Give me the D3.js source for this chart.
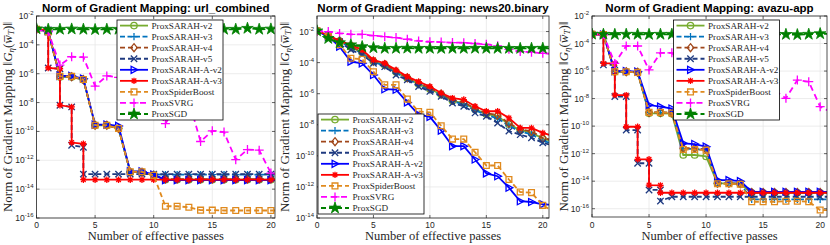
<!DOCTYPE html>
<html>
<head>
<meta charset="utf-8">
<script src="https://cdn.jsdelivr.net/npm/d3@7"></script>
<style>
  body { margin: 0; background: #fff; }
  svg { display: block; }
</style>
</head>
<body>
<div id="chart"></div>
<script>
// ---- data ----
const methods = ["ProxSARAH-v2", "ProxSARAH-v3", "ProxSARAH-v4", "ProxSARAH-v5",
  "ProxSARAH-A-v2", "ProxSARAH-A-v3", "ProxSpiderBoost", "ProxSVRG", "ProxSGD"];

const titles = ["Norm of Gradient Mapping: url_combined",
  "Norm of Gradient Mapping: news20.binary",
  "Norm of Gradient Mapping: avazu-app"];

const xTicks = [0, 5, 10, 15, 20];
const urlYTicks = [-2, -4, -6, -8, -10, -12, -14, -16];
const newsYTicks = [-2, -4, -6, -8, -10, -12, -14];
const avazuYTicks = [-2, -4, -6, -8, -10, -12, -14, -16];

// effective passes
const passes = [0, 1, 2, 3, 4, 5, 6, 7, 8, 9, 10, 11, 12, 13, 14, 15, 16, 17, 18, 19, 20, 21];
// staircase runs: two records at the same pass
const urlStepPasses = [0, 1, 1, 2, 2, 3, 3, 4, 4, 5, 6, 7, 8, 9, 10, 11, 12, 13, 14, 15, 16, 17, 18, 19, 20, 21];
const avazuStepPasses = [0, 1, 1, 2, 2, 3, 3, 4, 4, 5, 5, 6, 6, 7, 8, 9, 10, 11, 12, 13, 14, 15, 16, 17, 18, 19, 20, 21];

// url_combined
const urlV2 = [1.2e-3, 8e-4, 6e-7, 6e-7, 3.8e-7, 2.6e-10, 2.6e-10, 1.6e-10, 1.5e-13, 1.5e-13, 9e-14, 4.5e-14, 4.5e-14, 4.5e-14, 4.5e-14, 4.5e-14, 4.5e-14, 4.5e-14, 4.5e-14, 4.5e-14, 4.5e-14, 4.5e-14];
const urlV3 = [1.2e-3, 8e-4, 6.3e-7, 6.3e-7, 4e-7, 2.8e-10, 2.8e-10, 1.7e-10, 1.6e-13, 1.6e-13, 1.1e-13, 1e-13, 1e-13, 1e-13, 1e-13, 1e-13, 1e-13, 1e-13, 1e-13, 1e-13, 1e-13, 1e-13];
const urlV4 = [1.2e-3, 8e-4, 6.2e-7, 6.2e-7, 3.9e-7, 2.7e-10, 2.7e-10, 1.6e-10, 1.5e-13, 1.5e-13, 9e-14, 5e-14, 5e-14, 5e-14, 5e-14, 5e-14, 5e-14, 5e-14, 5e-14, 5e-14, 5e-14, 5e-14];
const urlV5 = [1.2e-3, 1.1e-3, 2.5e-6, 2.2e-6, 6.5e-9, 5e-9, 1.1e-11, 8e-12, 1.1e-13, 1.1e-13, 1.1e-13, 1.1e-13, 1.1e-13, 1.1e-13, 1.1e-13, 1.1e-13, 1.1e-13, 1.1e-13, 1.1e-13, 1.1e-13, 1.1e-13, 1.1e-13, 1.1e-13, 1.1e-13, 1.1e-13, 1.1e-13];
const urlAV2 = [1.2e-3, 9e-4, 7e-7, 7e-7, 4.5e-7, 3e-10, 3e-10, 2.4e-10, 1.7e-13, 1.7e-13, 1e-13, 4.2e-14, 4.2e-14, 4.2e-14, 4.2e-14, 4.2e-14, 4.2e-14, 4.2e-14, 4.2e-14, 4.2e-14, 4.2e-14, 4.2e-14];
const urlAV3 = [1.2e-3, 1.1e-3, 2.5e-6, 2.2e-6, 6.5e-9, 5e-9, 1.7e-11, 1.4e-11, 4.5e-14, 4.5e-14, 4.5e-14, 4.5e-14, 4.5e-14, 4.5e-14, 4.5e-14, 4.5e-14, 4.5e-14, 4.5e-14, 4.5e-14, 4.5e-14, 4.5e-14, 4.5e-14, 4.5e-14, 4.5e-14, 4.5e-14, 4.5e-14];
const urlSpider = [1.2e-3, 8e-4, 6.5e-7, 6.5e-7, 4e-7, 2.7e-10, 2.7e-10, 1.6e-10, 1.6e-13, 1.6e-13, 9e-14, 6.5e-16, 6.5e-16, 5.5e-16, 3.5e-16, 3.5e-16, 3.3e-16, 3.3e-16, 3.3e-16, 3.3e-16, 3.3e-16, 3.3e-16];
const urlSVRG = [1.2e-3, 8e-4, 4e-6, 1.5e-5, 1.4e-5, 1.4e-7, 7e-7, 5.5e-7, 2e-7, 6e-8, 1e-8, 3.5e-10, 8e-9, 1.3e-8, 2e-11, 1.1e-10, 9e-11, 1.1e-12, 5.5e-12, 5e-12, 1.3e-13, 8e-14];
const urlSGD = [1.3e-3, 1.2e-3, 1.2e-3, 1.25e-3, 1.2e-3, 1.15e-3, 1.2e-3, 1.2e-3, 1.25e-3, 1.2e-3, 1.2e-3, 1.15e-3, 1.2e-3, 1.2e-3, 1.25e-3, 1.2e-3, 1.2e-3, 1.2e-3, 1.4e-3, 1.2e-3, 1.25e-3, 1.2e-3];

// news20.binary
const newsV2 = [1.1e-2, 5.2e-3, 2.4e-3, 1e-3, 4.5e-4, 1.2e-4, 7.1e-5, 2.5e-5, 1e-5, 4.2e-6, 2e-6, 8.9e-7, 3.5e-7, 2.5e-7, 1e-7, 5e-8, 3.5e-8, 1.1e-8, 4.5e-9, 3.2e-9, 1.26e-9, 8e-10];
const newsV3 = [1.1e-2, 5.1e-3, 2.3e-3, 8.9e-4, 4e-4, 1.07e-4, 6.3e-5, 2.1e-5, 9.3e-6, 3.7e-6, 1.8e-6, 8.3e-7, 3.2e-7, 2.1e-7, 8.3e-8, 4.5e-8, 2.5e-8, 8.9e-9, 3.5e-9, 2.5e-9, 8.9e-10, 6.3e-10];
const newsV4 = [1.1e-2, 5.4e-3, 2.5e-3, 1.05e-3, 5e-4, 1.26e-4, 7.6e-5, 2.7e-5, 1.07e-5, 4.7e-6, 2.2e-6, 9.5e-7, 4e-7, 2.8e-7, 1.1e-7, 5.6e-8, 4.2e-8, 1.26e-8, 5e-9, 3.8e-9, 1.4e-9, 1e-9];
const newsV5 = [1.1e-2, 5e-3, 2.2e-3, 6.6e-4, 3.2e-4, 9.1e-5, 5.5e-5, 1.6e-5, 7.8e-6, 2.9e-6, 1.4e-6, 6.8e-7, 2.5e-7, 1.55e-7, 5.8e-8, 3.5e-8, 1.3e-8, 3.9e-9, 2.3e-9, 1.45e-9, 6.9e-10, 4.5e-10];
const newsAV2 = [1.1e-2, 4.7e-3, 1.07e-3, 1.15e-4, 9e-5, 1.6e-5, 1.95e-6, 1.8e-6, 2.75e-7, 4.5e-8, 3.2e-8, 4.2e-9, 4.2e-10, 4.2e-10, 5.8e-11, 7.4e-12, 4.9e-12, 8.9e-13, 1.2e-13, 1.07e-13, 7.6e-14, 7e-14];
const newsAV3 = [1.1e-2, 5.8e-3, 2.5e-3, 1.4e-3, 6.6e-4, 1.5e-4, 9.1e-5, 3.4e-5, 1.26e-5, 6e-6, 2.9e-6, 1.1e-6, 5.2e-7, 4.2e-7, 1.55e-7, 7.4e-8, 7.4e-8, 2.75e-8, 6.3e-9, 6.3e-9, 3e-9, 1.8e-9];
const newsSpider = [1.1e-2, 4.7e-3, 1.4e-3, 1.9e-4, 1.66e-4, 2.6e-5, 3.7e-6, 3.7e-6, 4.5e-7, 7.2e-8, 6.3e-8, 8.7e-9, 1.2e-9, 1.2e-9, 1.7e-10, 2.4e-11, 2.4e-11, 3e-12, 4.7e-13, 4.3e-13, 6.5e-14, 2.5e-14];
const newsSVRG = [1.1e-2, 1e-2, 7.6e-3, 6.6e-3, 6.6e-3, 5.4e-3, 4.7e-3, 4.1e-3, 3.2e-3, 2.5e-3, 2.2e-3, 2.1e-3, 1.95e-3, 1.9e-3, 1.7e-3, 1.5e-3, 1.2e-3, 7.2e-4, 5.1e-4, 4.7e-4, 4e-4, 3.5e-4];
const newsSGD = [1.1e-2, 3.6e-3, 1.9e-3, 1.4e-3, 1.07e-3, 9.1e-4, 8.3e-4, 8.3e-4, 8.5e-4, 8.3e-4, 8.3e-4, 8.2e-4, 8.3e-4, 8.3e-4, 8.4e-4, 8.3e-4, 8.3e-4, 8.3e-4, 8.2e-4, 8.3e-4, 8.4e-4, 8.3e-4];

// avazu-app
const avazuV2 = [4.7e-4, 4.5e-4, 8.9e-7, 8.9e-7, 8e-7, 8.5e-10, 8.5e-10, 8e-10, 8e-13, 8e-13, 6.3e-13, 6.9e-15, 6.9e-15, 6.3e-15, 1.45e-15, 1.45e-15, 1.45e-15, 1.45e-15, 1.45e-15, 1.45e-15, 1.45e-15, 1.45e-15];
const avazuV3 = [4.7e-4, 4.5e-4, 9e-7, 9e-7, 8e-7, 1e-9, 1e-9, 9e-10, 2.2e-12, 2.2e-12, 1.8e-12, 7e-15, 7e-15, 6.5e-15, 4.8e-16, 4.8e-16, 4.8e-16, 4.8e-16, 4.8e-16, 4.8e-16, 4.8e-16, 4.8e-16];
const avazuV4 = [4.7e-4, 4.5e-4, 9e-7, 9e-7, 8.2e-7, 1e-9, 1e-9, 9e-10, 2.5e-12, 2.5e-12, 2e-12, 7e-15, 7e-15, 6.5e-15, 1.5e-15, 1.5e-15, 1.5e-15, 1.5e-15, 1.5e-15, 1.5e-15, 1.5e-15, 1.5e-15];
const avazuV5 = [4.7e-4, 4.5e-4, 2.8e-6, 2.8e-6, 1.4e-8, 1.4e-8, 5.2e-11, 5.2e-11, 2e-13, 2e-13, 2.3e-15, 2.3e-15, 3.6e-16, 7.4e-16, 7.4e-16, 7.4e-16, 7.4e-16, 7.4e-16, 7.4e-16, 7.4e-16, 7.4e-16, 7.4e-16, 7.4e-16, 7.4e-16, 7.4e-16, 7.4e-16, 7.4e-16, 7.4e-16];
const avazuAV2 = [4.7e-4, 4.5e-4, 1e-6, 1e-6, 9e-7, 3.4e-9, 2.6e-9, 1.9e-9, 5.6e-12, 5e-12, 3.2e-12, 1.2e-14, 1.2e-14, 1e-14, 1.7e-15, 1.7e-15, 1.7e-15, 1.7e-15, 1.7e-15, 1.7e-15, 1.7e-15, 1.7e-15];
const avazuAV3 = [4.7e-4, 4.5e-4, 3.6e-6, 3.6e-6, 1.8e-8, 1.8e-8, 9e-11, 9e-11, 3.9e-13, 3.9e-13, 5.2e-15, 5e-15, 1.45e-15, 1.45e-15, 1.45e-15, 1.45e-15, 1.45e-15, 1.45e-15, 1.45e-15, 1.45e-15, 1.45e-15, 1.45e-15, 1.45e-15, 1.45e-15, 1.45e-15, 1.45e-15, 1.45e-15, 1.45e-15];
const avazuSpider = [4.7e-4, 4.5e-4, 9e-7, 9e-7, 8e-7, 1e-9, 1e-9, 9e-10, 2e-12, 2e-12, 1.8e-12, 6.5e-15, 6.5e-15, 6e-15, 3.2e-16, 3.2e-16, 3.2e-16, 3.5e-16, 3.5e-16, 3.2e-16, 8e-17, 8e-17];
const avazuSVRG = [4.7e-4, 4.5e-4, 3.6e-6, 6.6e-5, 6.6e-5, 1.2e-6, 2.1e-5, 2.1e-5, 3e-6, 1e-6, 3e-7, 6e-7, 1.5e-7, 1e-7, 1.2e-7, 6e-8, 4e-8, 1.05e-8, 2.2e-7, 1.7e-7, 2.6e-9, 1e-9];
const avazuSGD = [4.8e-4, 4.7e-4, 4.6e-4, 4.7e-4, 4.7e-4, 4.6e-4, 4.7e-4, 4.7e-4, 4.8e-4, 4.7e-4, 4.7e-4, 4.6e-4, 4.7e-4, 4.7e-4, 4.8e-4, 4.7e-4, 4.7e-4, 4.6e-4, 4.4e-4, 4.7e-4, 5.2e-4, 5e-4];

// ---- styles ----
const colors = ["#77ac30", "#0072bd", "#a0461a", "#1f3a80", "#0000ff", "#ff0000", "#e08a1e", "#ff00ff", "#008000"];
const dashes = [null, "5,2.5", "5,3", "5,3", null, null, "5,3", "6,4", "5,3"];
const markers = ["o", "+", "d", "x", ">", "*", "s", "P", "p"];

const panels = [
  { left: 36.5, right: 275, top: 16, bottom: 218, xMax: 20.35, yDomain: [1e-16, 1e-2], yTicks: urlYTicks,
    legend: [117, 20], yLabelX: 11.5,
    series: [[passes, urlV2], [passes, urlV3], [passes, urlV4], [urlStepPasses, urlV5], [passes, urlAV2],
      [urlStepPasses, urlAV3], [passes, urlSpider], [passes, urlSVRG], [passes, urlSGD]] },
  { left: 317, right: 549, top: 16, bottom: 218, xMax: 20.55, yDomain: [1e-14, 1e-1], yTicks: newsYTicks,
    legend: [318, 114], yLabelX: 288.5,
    series: [[passes, newsV2], [passes, newsV3], [passes, newsV4], [passes, newsV5], [passes, newsAV2],
      [passes, newsAV3], [passes, newsSpider], [passes, newsSVRG], [passes, newsSGD]] },
  { left: 592, right: 827, top: 16, bottom: 217, xMax: 20.6, yDomain: [2.5e-17, 1e-2], yTicks: avazuYTicks,
    legend: [673.5, 20], yLabelX: 567.5,
    series: [[passes, avazuV2], [passes, avazuV3], [passes, avazuV4], [avazuStepPasses, avazuV5], [passes, avazuAV2],
      [avazuStepPasses, avazuAV3], [passes, avazuSpider], [passes, avazuSVRG], [passes, avazuSGD]] }
];

const width = 830, height = 245;
const axisColor = "#262626";
const serif = "'Liberation Serif', 'Times New Roman', serif";
const sans = "'Liberation Sans', Arial, Helvetica, sans-serif";

const svg = d3.select("#chart").append("svg")
  .attr("width", width)
  .attr("height", height)
  .attr("viewBox", [0, 0, width, height]);

// marker shapes centred at 0,0
function markerPath(type) {
  const s = 3.2;
  switch (type) {
    case "o": return `M${s},0A${s},${s},0,1,1,${-s},0A${s},${s},0,1,1,${s},0Z`;
    case "+": return `M${-s - 0.5},0H${s + 0.5}M0,${-s - 0.5}V${s + 0.5}`;
    case "P": return `M-4.5,0H4.5M0,-4.5V4.5`;
    case "d": return `M0,${-s * 1.25}L${s},0L0,${s * 1.25}L${-s},0Z`;
    case "x": return `M${-s},${-s}L${s},${s}M${-s},${s}L${s},${-s}`;
    case ">": return `M${-s * 0.9},${-s * 1.1}L${s * 1.2},0L${-s * 0.9},${s * 1.1}Z`;
    case "*": return `M${-s},0H${s}M0,${-s}V${s}M-2.3,-2.3L2.3,2.3M-2.3,2.3L2.3,-2.3`;
    case "s": return `M${-s + 0.3},${-s + 0.3}H${s - 0.3}V${s - 0.3}H${-s + 0.3}Z`;
    case "p": return d3.symbol(d3.symbolStar, 42)();
  }
}

function addMarker(sel, i) {
  sel.append("path")
    .attr("d", markerPath(markers[i]))
    .attr("fill", markers[i] === "p" ? colors[i] : "none")
    .attr("stroke", colors[i])
    .attr("stroke-width", markers[i] === "p" ? 0.8 : 1.3)
    .attr("stroke-linejoin", "miter");
}

panels.forEach((p, k) => {
  const x = d3.scaleLinear().domain([0, p.xMax]).range([p.left, p.right]);
  const y = d3.scaleLog().domain(p.yDomain).range([p.bottom, p.top]);
  const g = svg.append("g");

  // grid
  g.append("g").selectAll("line").data(xTicks).join("line")
    .attr("x1", d => x(d)).attr("x2", d => x(d))
    .attr("y1", p.top).attr("y2", p.bottom)
    .attr("stroke", "#e4e4e4").attr("stroke-width", 0.7);
  g.append("g").selectAll("line").data(p.yTicks).join("line")
    .attr("x1", p.left).attr("x2", p.right)
    .attr("y1", d => y(Math.pow(10, d))).attr("y2", d => y(Math.pow(10, d)))
    .attr("stroke", "#e4e4e4").attr("stroke-width", 0.7);

  // series
  const clipId = "clip" + k;
  svg.append("clipPath").attr("id", clipId).append("rect")
    .attr("x", p.left).attr("y", p.top)
    .attr("width", p.right - p.left).attr("height", p.bottom - p.top);
  const plot = g.append("g").attr("clip-path", `url(#${clipId})`);

  const line = d3.line().x(d => x(d[0])).y(d => y(d[1]));

  p.series.forEach(([xs, ys], i) => {
    const pts = xs.map((v, j) => [v, ys[j]]);
    const sg = plot.append("g");
    sg.append("path")
      .attr("d", line(pts))
      .attr("fill", "none")
      .attr("stroke", colors[i])
      .attr("stroke-width", 1.8)
      .attr("stroke-dasharray", dashes[i]);
    sg.selectAll("g").data(pts.filter(d => d[0] <= p.xMax)).join("g")
      .attr("transform", d => `translate(${x(d[0])},${y(d[1])})`)
      .each(function () { addMarker(d3.select(this), i); });
  });

  // axes box and inward ticks
  g.append("rect")
    .attr("x", p.left).attr("y", p.top)
    .attr("width", p.right - p.left).attr("height", p.bottom - p.top)
    .attr("fill", "none").attr("stroke", axisColor).attr("stroke-width", 0.8);

  const tickLen = 3;
  g.append("g").selectAll("path").data(xTicks).join("path")
    .attr("d", d => `M${x(d)},${p.bottom}v${-tickLen}M${x(d)},${p.top}v${tickLen}`)
    .attr("stroke", axisColor).attr("stroke-width", 0.7);
  g.append("g").selectAll("path").data(p.yTicks).join("path")
    .attr("d", d => `M${p.left},${y(Math.pow(10, d))}h${tickLen}M${p.right},${y(Math.pow(10, d))}h${-tickLen}`)
    .attr("stroke", axisColor).attr("stroke-width", 0.7);

  // tick labels
  g.append("g").selectAll("text").data(xTicks).join("text")
    .attr("x", d => x(d)).attr("y", 227.5)
    .attr("text-anchor", "middle")
    .attr("font-family", sans).attr("font-size", 8.5).attr("fill", axisColor)
    .text(d => d);

  const yl = g.append("g").selectAll("text").data(p.yTicks).join("text")
    .attr("x", p.left - 3).attr("y", d => y(Math.pow(10, d)) + 3)
    .attr("text-anchor", "end")
    .attr("font-family", sans).attr("font-size", 8.5).attr("fill", axisColor);
  yl.append("tspan").text("10");
  yl.append("tspan").attr("dy", -4).attr("font-size", 6).text(d => "-" + Math.abs(d));

  // title
  g.append("text")
    .attr("x", (p.left + p.right) / 2).attr("y", 12)
    .attr("text-anchor", "middle")
    .attr("font-family", sans).attr("font-weight", "bold").attr("font-size", 11.5)
    .attr("fill", "#000")
    .text(titles[k]);

  // x label
  g.append("text")
    .attr("x", (p.left + p.right) / 2).attr("y", 240)
    .attr("text-anchor", "middle")
    .attr("font-family", serif).attr("font-size", 12.5).attr("fill", axisColor)
    .text("Number of effective passes");

  // y label
  const ylab = g.append("text")
    .attr("transform", `translate(${p.yLabelX},${(p.top + p.bottom) / 2}) rotate(-90)`)
    .attr("text-anchor", "middle")
    .attr("font-family", serif).attr("font-size", 13).attr("fill", axisColor);
  ylab.append("tspan").text("Norm of Gradient Mapping \u2016");
  ylab.append("tspan").attr("font-style", "italic").text("G");
  ylab.append("tspan").attr("font-style", "italic").attr("font-size", 9).attr("dy", 2.5).text("\u03b7");
  ylab.append("tspan").attr("dy", -2.5).text("(");
  ylab.append("tspan").attr("font-style", "italic").text("w\u0305");
  ylab.append("tspan").attr("font-style", "italic").attr("font-size", 9).attr("dy", 2.5).text("T");
  ylab.append("tspan").attr("dy", -2.5).text(")\u2016");

  // legend
  const [lx, ly] = p.legend;
  const lg = g.append("g").attr("transform", `translate(${lx},${ly})`);
  lg.append("rect")
    .attr("width", 106).attr("height", 100)
    .attr("fill", "#fff").attr("stroke", "#000").attr("stroke-width", 0.8);
  methods.forEach((name, i) => {
    const cy = 5.6 + i * 11.05;
    const row = lg.append("g").attr("transform", `translate(0,${cy})`);
    row.append("path")
      .attr("d", "M3,0H31")
      .attr("stroke", colors[i]).attr("stroke-width", 1.8)
      .attr("stroke-dasharray", dashes[i]);
    addMarker(row.append("g").attr("transform", "translate(17,0)"), i);
    row.append("text")
      .attr("x", 34.5).attr("y", 3.2)
      .attr("font-family", serif).attr("font-size", 9.2).attr("fill", axisColor)
      .text(name);
  });
});
</script>
</body>
</html>
